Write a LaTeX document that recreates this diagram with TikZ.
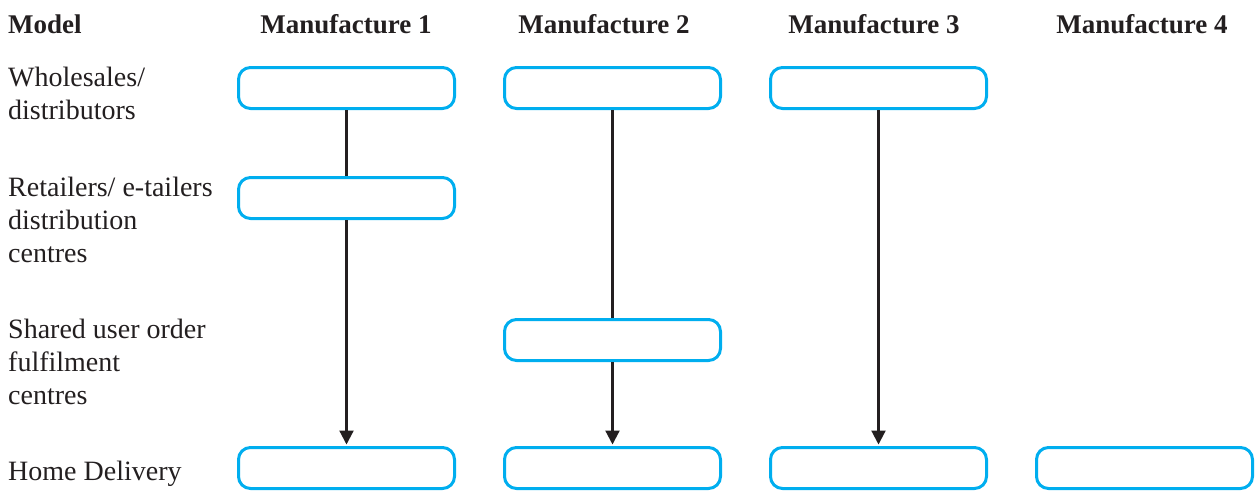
\documentclass[tikz,border=0pt]{standalone}
\usepackage{fontspec}
\setmainfont{Liberation Serif}
\usetikzlibrary{arrows.meta}
\definecolor{boxblue}{RGB}{0,174,239}
\definecolor{ink}{RGB}{35,31,32}
\begin{document}
\begin{tikzpicture}[x=1pt,y=-1pt,
  stage/.style={draw=boxblue, line width=3pt, rounded corners=12pt, fill=white,
    minimum width=216pt, minimum height=41pt, inner sep=0pt},
  head/.style={font=\fontsize{27}{33}\selectfont\bfseries, text=ink, anchor=base, inner sep=0pt},
  rowlabel/.style={font=\fontsize{28}{33}\selectfont, text=ink, align=left, anchor=base west, inner sep=0pt},
  link/.style={draw=ink, line width=2.2pt},
  flow/.style={link, -{Triangle[width=14pt,length=14pt]}, shorten >=1.5pt}]
\useasboundingbox (0,0) rectangle (1255,491);

% column headings
\node[head, anchor=base west] (hmodel) at (8,33) {Model};
\node[head] (hm1) at (346,33) {Manufacture 1};
\node[head] (hm2) at (604,33) {Manufacture 2};
\node[head] (hm3) at (874,33) {Manufacture 3};
\node[head] (hm4) at (1142,33) {Manufacture 4};

% row labels (base anchor sits on the last line)
\node[rowlabel] (lwhole) at (8,119) {Wholesales/\\distributors};
\node[rowlabel] (lretail) at (8,262) {Retailers/ e-tailers\\distribution\\centres};
\node[rowlabel] (lshared) at (8,404) {Shared user order\\fulfilment\\centres};
\node[rowlabel] (lhome) at (8,480) {Home Delivery};

% stage boxes
\node[stage] (w1) at (346.5,88) {};
\node[stage] (w2) at (612.5,88) {};
\node[stage] (w3) at (878.5,88) {};
\node[stage] (r1) at (346.5,198) {};
\node[stage] (s2) at (612.5,340) {};
\node[stage] (h1) at (346.5,468) {};
\node[stage] (h2) at (612.5,468) {};
\node[stage] (h3) at (878.5,468) {};
\node[stage] (h4) at (1144.5,468) {};

% flows
\draw[link] (w1.south) -- (r1.north);
\draw[flow] (r1.south) -- (h1.north);
\draw[link] (w2.south) -- (s2.north);
\draw[flow] (s2.south) -- (h2.north);
\draw[flow] (w3.south) -- (h3.north);
\end{tikzpicture}
\end{document}
